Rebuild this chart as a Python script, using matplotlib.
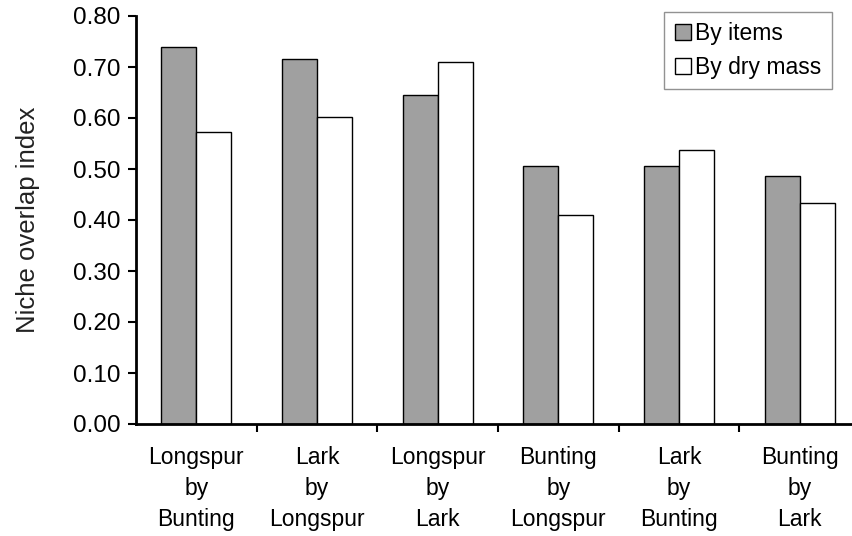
import matplotlib.pyplot as plt
import numpy as np

# niche overlap values
categories = ["Longspur\nby\nBunting", "Lark\nby\nLongspur", "Longspur\nby\nLark",
              "Bunting\nby\nLongspur", "Lark\nby\nBunting", "Bunting\nby\nLark"]
by_items = [0.74, 0.715, 0.645, 0.505, 0.505, 0.487]
by_dry_mass = [0.572, 0.602, 0.710, 0.410, 0.538, 0.433]
yticks = [0.0, 0.1, 0.2, 0.3, 0.4, 0.5, 0.6, 0.7, 0.8]

plt.rcParams['font.family'] = ['Liberation Sans', 'DejaVu Sans']

fig = plt.figure(figsize=(8.53, 5.36), dpi=100)
W, H = 853, 536
ax = fig.add_axes([136 / W, 112 / H, 724 / W, 408 / H])

x = np.arange(len(categories))
w = 0.29
ax.bar(x - w / 2, by_items, w, color='#a0a0a0', edgecolor='black', linewidth=1.0, label='By items')
ax.bar(x + w / 2, by_dry_mass, w, color='white', edgecolor='black', linewidth=1.0, label='By dry mass')

ax.set_xlim(-0.5, len(categories) - 0.5)
ax.set_ylim(0, 0.8)
ax.set_yticks(yticks)
ax.set_yticklabels([f"{v:.2f}" for v in yticks], fontsize=17.5)

# boundary ticks between groups, labels as minor ticks
ax.set_xticks(np.arange(0.5, len(categories) - 0.5, 1.0))
ax.set_xticklabels([])
ax.set_xticks(x, minor=True)
ax.set_xticklabels(categories, minor=True, fontsize=16.5, linespacing=1.45)
ax.tick_params(axis='x', which='minor', length=0, pad=16)
ax.tick_params(axis='x', which='major', direction='out', length=6, width=1.5)
ax.tick_params(axis='y', direction='out', length=6, width=1.5, pad=5)

for s in ['top', 'right']:
    ax.spines[s].set_visible(False)
for s in ['left', 'bottom']:
    ax.spines[s].set_linewidth(2)

ax.set_ylabel("Niche overlap index", fontsize=18.5, color='#222222', labelpad=24)

leg = ax.legend(loc='upper right', bbox_to_anchor=(0.961, 1.01), borderaxespad=0,
                fontsize=16.5, frameon=True, fancybox=False, handlelength=0.7,
                handleheight=0.7, handletextpad=0.2, borderpad=0.45, labelspacing=0.45)
leg.get_frame().set_edgecolor('#777777')
leg.get_frame().set_linewidth(1.0)

fig.savefig("out.png", dpi=100)
